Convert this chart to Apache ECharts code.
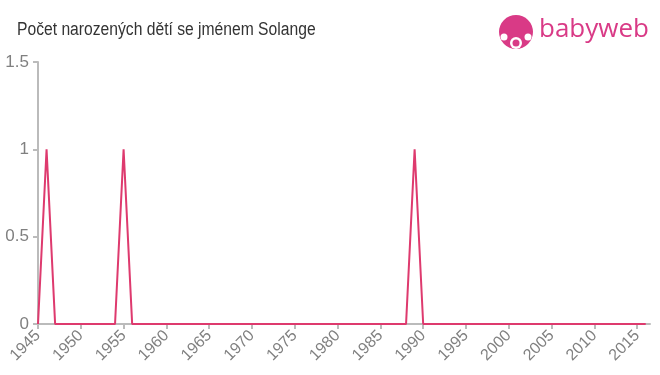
<!DOCTYPE html>
<html><head><meta charset="utf-8">
<script src="https://cdn.jsdelivr.net/npm/echarts@6/dist/echarts.min.js"></script>
<style>html,body{margin:0;padding:0;background:#fff}#c{width:660px;height:375px}</style>
</head><body><div id="c"></div>
<script>
var titleText = 'Počet narozených dětí se jménem Solange';
var years = [];
for (var y = 1945; y <= 2016; y++) years.push(y);
var peakYears = [1946, 1955, 1989];
var peakValues = [1, 1, 1];
var xTicks = [1945,1950,1955,1960,1965,1970,1975,1980,1985,1990,1995,2000,2005,2010,2015];
var yTicks = [0, 0.5, 1, 1.5];

var data = years.map(function (yr) {
  var i = peakYears.indexOf(yr);
  return [yr, i >= 0 ? peakValues[i] : 0];
});

var chart = echarts.init(document.getElementById('c'), null, {renderer: 'canvas'});
chart.setOption({
  animation: false,
  grid: {left: 38, right: 10, top: 62, bottom: 51, containLabel: false},
  xAxis: {type: 'value', min: 1945, max: 2016.5,
    axisLine: {lineStyle: {color: '#bbb', width: 2}},
    axisTick: {customValues: xTicks, length: 5, lineStyle: {color: '#bbb', width: 2}},
    axisLabel: {customValues: xTicks, rotate: 45, color: '#808080', fontSize: 16, margin: 9,
      fontFamily: 'Liberation Sans, Arial', formatter: function (v) { return String(v); }},
    splitLine: {show: false}},
  yAxis: {type: 'value', min: 0, max: 1.5, interval: 0.5,
    axisLine: {show: true, lineStyle: {color: '#bbb', width: 2}},
    axisTick: {show: true, length: 5, lineStyle: {color: '#bbb', width: 2}},
    axisLabel: {color: '#808080', fontSize: 17, margin: 9, fontFamily: 'Liberation Sans, Arial',
      formatter: function (v) { return String(v); }},
    splitLine: {show: false}},
  series: [{type: 'line', data: data, symbol: 'none',
    lineStyle: {color: '#de3a6e', width: 2}}],
  graphic: [
    {type: 'text', x: 17, y: 30, scaleX: 0.87, style: {text: titleText, fill: '#333',
      font: '18px "Liberation Sans", Arial', verticalAlign: 'middle', align: 'left'}},
    {type: 'circle', shape: {cx: 516, cy: 32, r: 17}, style: {fill: '#d93a86'}},
    {type: 'circle', shape: {cx: 516, cy: 43, r: 6}, style: {fill: '#fff'}},
    {type: 'circle', shape: {cx: 516, cy: 43, r: 3.5}, style: {fill: '#d93a86'}},
    {type: 'circle', shape: {cx: 504, cy: 37, r: 3.5}, style: {fill: '#fff'}},
    {type: 'circle', shape: {cx: 528, cy: 37, r: 3.5}, style: {fill: '#fff'}},
    {type: 'text', left: 539, top: 17, style: {text: 'babyweb', fill: '#d93a86',
      font: '500 26px "Open Sans", Arial'}}
  ]
});
</script></body></html>
